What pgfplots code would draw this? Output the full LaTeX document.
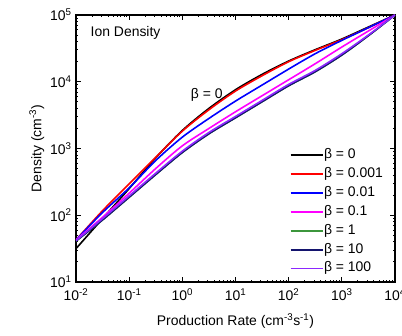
\documentclass[border=0pt]{standalone}
\usepackage{fontspec}
\setmainfont{Liberation Sans}
\usepackage{pgfplots}
\pgfplotsset{compat=1.18}
\definecolor{cgreen}{RGB}{60,150,60}
\definecolor{cnavy}{RGB}{20,20,110}
\definecolor{cviolet}{RGB}{140,40,255}
\definecolor{cmag}{RGB}{255,0,255}
\begin{document}
\begin{tikzpicture}
\path[use as bounding box] (-76bp,-54bp) rectangle (326bp,282bp);
\begin{axis}[
  at={(0,0)}, anchor=south west,
  scale only axis, width=319bp, height=267bp,
  xmode=log, ymode=log,
  xmin=1e-2, xmax=1e4, ymin=1e1, ymax=1e5,
  font=\fontsize{14}{16}\selectfont,
  xtick={1e-2,1e-1,1e0,1e1,1e2,1e3,1e4},
  xticklabels={10\textsuperscript{-2},10\textsuperscript{-1},10\textsuperscript{0},10\textsuperscript{1},10\textsuperscript{2},10\textsuperscript{3},10\textsuperscript{4}},
  ytick={1e1,1e2,1e3,1e4,1e5},
  yticklabels={10\textsuperscript{1},10\textsuperscript{2},10\textsuperscript{3},10\textsuperscript{4},10\textsuperscript{5}},
  xticklabel style={yshift=-3bp},
  yticklabel style={xshift=-1bp},
  tick align=inside, tick pos=both,
  major tick length=5bp, minor tick length=2.5bp,
  every tick/.style={black, line width=0.9pt},
  axis line style={line width=1.1pt},
  xlabel={Production Rate (cm\textsuperscript{-3}s\textsuperscript{-1})},
  ylabel={Density (cm\textsuperscript{-3})},
  xlabel style={yshift=-6bp},
  ylabel style={yshift=-1bp},
  legend cell align=left,
  legend style={draw=none, fill=none, at={(rel axis cs:0.66,0.51)}, anchor=north west,
    font=\fontsize{14}{15}\selectfont, row sep=5.2bp,
    nodes={inner sep=0.5pt, text height=9.8pt, text depth=3pt}},
  legend image code/.code={\draw[#1, sharp plot, line width=1.8pt] (0bp,0bp) -- (32bp,0bp);},
  every axis plot/.append style={line width=1.6pt, smooth, tension=0.5},
]
\addplot[black] coordinates {(0.01,31.6) (0.0316,89.1) (0.1,251) (0.316,724) (1,1862) (3.16,3981) (10,7586) (31.6,12882) (100,20417) (316,30200) (1000,43652) (3162,66069) (10000,100000)};
\addlegendentry{β = 0}
\addplot[red] coordinates {(0.01,42.7) (0.0316,117) (0.1,295) (0.316,741) (1,1820) (3.16,3802) (10,7244) (31.6,12303) (100,19953) (316,29512) (1000,42658) (3162,64565) (10000,100000)};
\addlegendentry{β = 0.001}
\addplot[blue] coordinates {(0.01,42.7) (0.0316,110) (0.1,257) (0.316,661) (1,1479) (3.16,2818) (10,5129) (31.6,8913) (100,15488) (316,26303) (1000,41687) (3162,64565) (10000,100000)};
\addlegendentry{β = 0.01}
\addplot[cmag] coordinates {(0.01,42.7) (0.0316,93.3) (0.1,214) (0.316,501) (1,1096) (3.16,1995) (10,3548) (31.6,6166) (100,10715) (316,18621) (1000,33113) (3162,57544) (10000,100000)};
\addlegendentry{β = 0.1}
\addplot[cgreen] coordinates {(0.01,41.0) (0.0316,85.1) (0.1,186) (0.316,407) (1,871) (3.16,1660) (10,2884) (31.6,5012) (100,8710) (316,14125) (1000,25119) (3162,48978) (10000,100000)};
\addlegendentry{β = 1}
\addplot[cnavy] coordinates {(0.01,41.0) (0.0316,85.1) (0.1,186) (0.316,407) (1,871) (3.16,1660) (10,2884) (31.6,5012) (100,8710) (316,14125) (1000,25119) (3162,48978) (10000,100000)};
\addlegendentry{β = 10}
\addplot[cviolet] coordinates {(0.01,41.7) (0.0316,89.1) (0.1,195) (0.316,427) (1,912) (3.16,1738) (10,3020) (31.6,5248) (100,9120) (316,14791) (1000,26303) (3162,50119) (10000,100000)};
\addlegendentry{β = 100}
\node[anchor=west, font=\fontsize{14}{16}\selectfont] at (rel axis cs:0.035,0.933) {Ion Density};
\node[font=\fontsize{14}{16}\selectfont] at (rel axis cs:0.41,0.70) {β = 0};
\end{axis}
\end{tikzpicture}
\end{document}
